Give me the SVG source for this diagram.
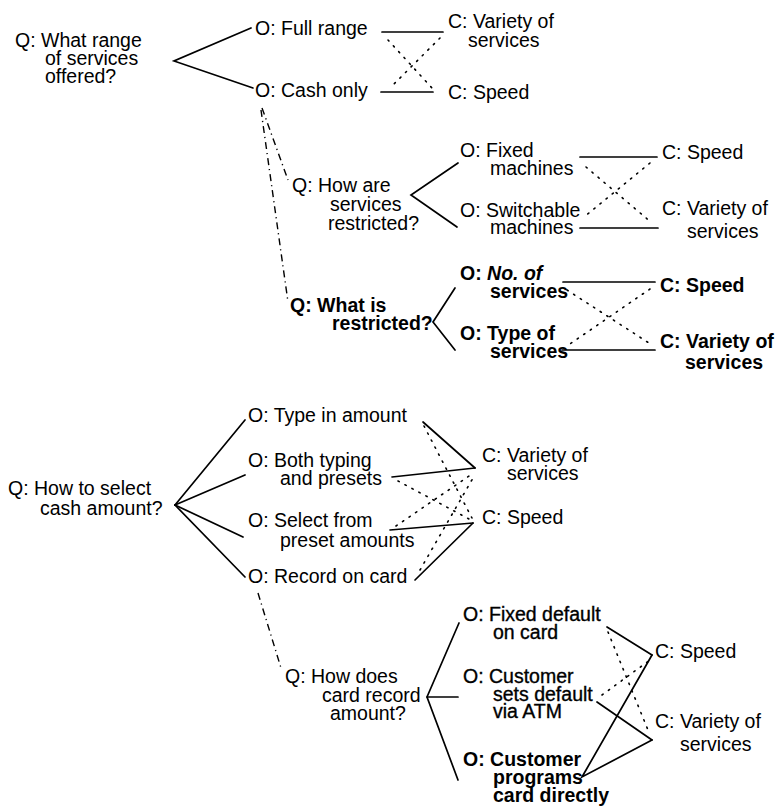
<svg xmlns="http://www.w3.org/2000/svg" width="776" height="806" viewBox="0 0 776 806">
  <style>
    text { font-family: "Liberation Sans", Arial, sans-serif; font-size: 19.5px; fill: #000; }
    .b { font-weight: bold; }
    .m { stroke: #000; stroke-width: 0.35px; }
    .bi { font-weight: bold; font-style: italic; }
    .solid line, .solid polyline { stroke: #000; stroke-width: 1.7; fill: none; stroke-linecap: round; }
    .dotted line { stroke: #000; stroke-width: 1.6; stroke-dasharray: 1.4 6.5; stroke-linecap: round; }
    .dashdot line { stroke: #000; stroke-width: 1.4; stroke-dasharray: 7 4 1.2 4; }
  </style>
  <rect width="776" height="806" fill="#fff"/>

  <!-- connectors -->
  <g id="connectors">
    <g class="solid">
      <polyline points="251,28 174,61 253,88"/>
      <line x1="382" y1="32" x2="443" y2="32"/>
      <line x1="381" y1="92" x2="433" y2="92"/>
      <polyline points="458,163 411,195 457,227"/>
      <line x1="580" y1="157" x2="657" y2="157"/>
      <line x1="580" y1="228" x2="658" y2="228"/>
      <polyline points="455,288 433,322 455,350"/>
      <line x1="563" y1="282" x2="655" y2="282"/>
      <line x1="562" y1="350" x2="655" y2="350"/>

      <line x1="175" y1="505" x2="245" y2="420"/>
      <line x1="175" y1="505" x2="245" y2="475"/>
      <line x1="175" y1="505" x2="243" y2="537"/>
      <line x1="175" y1="505" x2="245" y2="577"/>
      <line x1="423" y1="422" x2="475" y2="468"/>
      <line x1="392" y1="477" x2="475" y2="468"/>
      <line x1="390" y1="530" x2="473" y2="523"/>
      <line x1="415" y1="580" x2="473" y2="523"/>

      <polyline points="459,623 427,697 458,780"/>
      <line x1="427" y1="697" x2="458" y2="697"/>
      <line x1="607" y1="627" x2="652" y2="655"/>
      <line x1="597" y1="702" x2="652" y2="740"/>
      <polyline points="652,655 582,777 652,740"/>
    </g>
    <g class="dotted">
      <line x1="388" y1="40" x2="432" y2="88"/>
      <line x1="440" y1="38" x2="390" y2="88"/>
      <line x1="586" y1="167" x2="652" y2="223"/>
      <line x1="650" y1="163" x2="584" y2="217"/>
      <line x1="567" y1="290" x2="652" y2="345"/>
      <line x1="650" y1="289" x2="567" y2="346"/>

      <line x1="424" y1="426" x2="472" y2="518"/>
      <line x1="398" y1="481" x2="469" y2="519"/>
      <line x1="396" y1="526" x2="472" y2="474"/>
      <line x1="420" y1="570" x2="473" y2="478"/>

      <line x1="608" y1="632" x2="648" y2="730"/>
      <line x1="602" y1="695" x2="650" y2="660"/>
    </g>
    <g class="dashdot">
      <line x1="262" y1="108" x2="288" y2="180"/>
      <line x1="261" y1="110" x2="288" y2="302"/>
      <line x1="258" y1="593" x2="281" y2="668"/>
    </g>
  </g>

  <!-- services tree -->
  <g id="q-range"><text x="15" y="47">Q: What range<tspan x="45" dy="18">of services</tspan><tspan x="45" dy="18">offered?</tspan></text></g>
  <g id="o-full-range"><text x="255" y="35">O: Full range</text></g>
  <g id="o-cash-only"><text x="255" y="97">O: Cash only</text></g>
  <g id="c-variety-1"><text x="448" y="28">C: Variety of<tspan x="468" dy="19">services</tspan></text></g>
  <g id="c-speed-1"><text x="448" y="99">C: Speed</text></g>

  <g id="q-how-restricted"><text x="292" y="192">Q: How are<tspan x="330" dy="19">services</tspan><tspan x="328" dy="19">restricted?</tspan></text></g>
  <g id="o-fixed-machines"><text x="460" y="157">O: Fixed<tspan x="490" dy="18">machines</tspan></text></g>
  <g id="o-switchable"><text x="460" y="217">O: Switchable<tspan x="490" dy="17">machines</tspan></text></g>
  <g id="c-speed-2"><text x="662" y="159">C: Speed</text></g>
  <g id="c-variety-2"><text x="662" y="215">C: Variety of<tspan x="687" dy="23">services</tspan></text></g>

  <g id="q-what-restricted"><text class="b" x="290" y="312">Q:  What is<tspan x="332" dy="18">restricted?</tspan></text></g>
  <g id="o-number"><text class="b" x="460" y="280">O: <tspan class="bi">No. of</tspan><tspan x="490" dy="18">services</tspan></text></g>
  <g id="o-type"><text class="b" x="460" y="340">O: Type of<tspan x="490" dy="18">services</tspan></text></g>
  <g id="c-speed-3"><text class="b" x="660" y="292">C: Speed</text></g>
  <g id="c-variety-3"><text class="b" x="660" y="348">C: Variety of<tspan x="685" dy="21">services</tspan></text></g>

  <!-- cash amount tree -->
  <g id="q-cash-amount"><text x="8" y="495">Q: How to select<tspan x="40" dy="20">cash  amount?</tspan></text></g>
  <g id="o-type-in"><text x="248" y="422">O: Type in amount</text></g>
  <g id="o-both"><text x="248" y="467">O: Both typing<tspan x="280" dy="18">and presets</tspan></text></g>
  <g id="o-select"><text x="248" y="527">O: Select from<tspan x="280" dy="20">preset amounts</tspan></text></g>
  <g id="o-record"><text x="248" y="583">O: Record on card</text></g>
  <g id="c-variety-4"><text x="482" y="462">C: Variety of<tspan x="507" dy="18">services</tspan></text></g>
  <g id="c-speed-4"><text x="482" y="524">C: Speed</text></g>

  <g id="q-card-record"><text x="285" y="683">Q: How does<tspan x="322" dy="19">card record</tspan><tspan x="330" dy="18">amount?</tspan></text></g>
  <g id="o-fixed-default"><text class="m" x="463" y="621">O: Fixed default<tspan x="493" dy="18">on card</tspan></text></g>
  <g id="o-sets-default"><text class="m" x="463" y="683">O: Customer<tspan x="493" dy="18">sets default</tspan><tspan x="493" dy="17">via ATM</tspan></text></g>
  <g id="o-programs"><text class="b" x="463" y="766">O: Customer<tspan x="493" dy="18">programs</tspan><tspan x="493" dy="18">card directly</tspan></text></g>
  <g id="c-speed-5"><text x="655" y="658">C: Speed</text></g>
  <g id="c-variety-5"><text x="655" y="728">C: Variety of<tspan x="680" dy="23">services</tspan></text></g>
</svg>
